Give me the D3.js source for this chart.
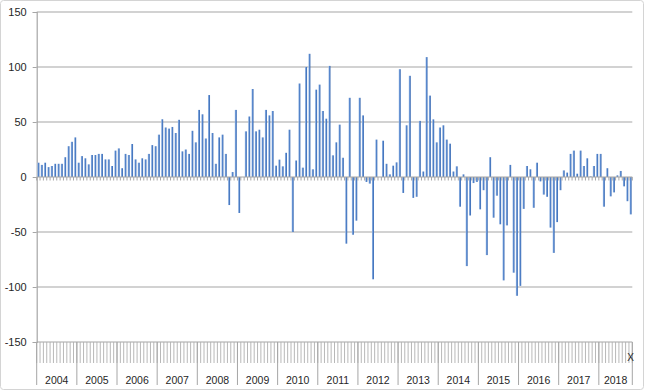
<!DOCTYPE html>
<html>
<head>
<meta charset="utf-8">
<script src="https://cdn.jsdelivr.net/npm/d3@7"></script>
<style>
  body { margin: 0; background: #fff; }
  text { font-family: "Liberation Sans", Arial, sans-serif; fill: #262626; }
</style>
</head>
<body>
<div id="chart"></div>
<script>
// monthly values, Jan 2004 .. Oct 2018
var values = [
  13, 11, 13, 9, 10, 12, 12, 12, 18, 28, 32, 36,                 // 2004
  13, 19, 17, 11.5, 20, 20, 21, 21, 16, 16, 10, 24,              // 2005
  26, 8, 21, 20, 30, 16, 13, 17, 16, 21, 29, 28,                 // 2006
  38.5, 52.5, 45, 44, 45.5, 40, 52, 23.3, 25, 21, 42, 31.5,      // 2007
  61, 57, 35, 74.5, 40, 12, 36, 38.5, 21, -25.5, 4.5, 61,        // 2008
  -32.7, 0, 41.5, 55, 80, 41.5, 43, 36, 61, 56, 60, 10.3,        // 2009
  15.8, 9.7, 22, 43, -50, 15, 85, 8.5, 100, 112, 7, 79.4,        // 2010
  84, 60, 53, 101, 19.7, 31.5, 47.6, 17.5, -60.6, 72, -52.5, -39.7, // 2011
  72, 56, -4.5, -6, -93, 34, 0, 33, 12, 2.4, 10.3, 13.3,         // 2012
  98, -14.5, 47, 92, -19, -18, 51, 5, 109, 74, 52.4, 31.5,       // 2013
  45, 47, 34, 30.3, 5, 9.7, -27, 2.4, -81, -35, -5.5, -4.5,      // 2014
  -29.4, -12, -71, 18, -37, -17, -43, -94, -44, 11, -87, -108,   // 2015
  -99, -29, 10, 7, -28, 13, -4, -16, -18, -46, -69, -41,         // 2016
  -12, 6, 4, 21, 24, 3, 24, 10, 17, 0.5, 10, 21,                 // 2017
  21, -27, 8, -17.6, -14, 1.5, 5.5, -8.5, -22, -34               // 2018
];
var years = ["2004","2005","2006","2007","2008","2009","2010","2011","2012","2013","2014","2015","2016","2017","2018"];
var monthsPerYear = [12,12,12,12,12,12,12,12,12,12,12,12,12,12,10];
var yTicks = [-150, -100, -50, 0, 50, 100, 150];
var lastMonthLabel = "X";

var width = 645, height = 392;
var plot = {left: 36.7, right: 632.3, top: 12, bottom: 342};

var svg = d3.select("#chart").append("svg")
  .attr("width", width)
  .attr("height", height);

// chart area frame
svg.append("rect")
  .attr("x", 0.5).attr("y", 0.5)
  .attr("width", width - 2).attr("height", height - 3)
  .attr("rx", 3)
  .attr("fill", "#fff")
  .attr("stroke", "#d4d4d4");

// gradient like the excel bars
var grad = svg.append("defs").append("linearGradient")
  .attr("id", "barfill")
  .attr("x1", "0").attr("x2", "1").attr("y1", "0").attr("y2", "0");
grad.append("stop").attr("offset", "0%").attr("stop-color", "#a9c4e8");
grad.append("stop").attr("offset", "45%").attr("stop-color", "#5a8ad0");
grad.append("stop").attr("offset", "100%").attr("stop-color", "#3666ae");

// categories: one per month
var cats = d3.range(values.length);
var x = d3.scaleBand()
  .domain(cats)
  .range([plot.left, plot.right])
  .padding(0);

var y = d3.scaleLinear()
  .domain([-150, 150])
  .range([plot.bottom, plot.top]);

// gridlines
svg.append("g")
  .selectAll("line")
  .data(yTicks.filter(function(d) { return d !== 0; }))
  .enter().append("line")
    .attr("x1", plot.left).attr("x2", plot.right)
    .attr("y1", function(d) { return y(d); })
    .attr("y2", function(d) { return y(d); })
    .attr("stroke", "#a6a6a6")
    .attr("stroke-width", 1.2);

// y axis
var yAxis = svg.append("g")
  .attr("transform", "translate(" + plot.left + ",0)")
  .call(d3.axisLeft(y).tickValues(yTicks).tickSize(4).tickPadding(6)
    .tickFormat(function(d) { return String(d); }));
yAxis.select(".domain").attr("stroke", "#a6a6a6").attr("stroke-width", 1.2);
yAxis.selectAll(".tick line").attr("stroke", "#a6a6a6");
yAxis.selectAll("text")
  .style("font-size", "11px")
  .style("font-family", "'Liberation Sans', Arial, sans-serif")
  .attr("fill", "#262626");

// bars
var bw = x.bandwidth() * 0.6;
svg.append("g")
  .selectAll("rect")
  .data(values)
  .enter().append("rect")
    .attr("x", function(d, i) { return x(i) + (x.bandwidth() - bw) / 2; })
    .attr("y", function(d) { return y(Math.max(0, d)); })
    .attr("width", bw)
    .attr("height", function(d) { return Math.abs(y(d) - y(0)); })
    .attr("fill", "url(#barfill)");

// horizontal axis at zero, with tick marks between months
svg.append("line")
  .attr("x1", plot.left).attr("x2", plot.right)
  .attr("y1", y(0)).attr("y2", y(0))
  .attr("stroke", "#a6a6a6")
  .attr("stroke-width", 1.2);
var bounds = cats.map(function(i) { return x(i); }).concat([plot.right]);
svg.append("g")
  .selectAll("line")
  .data(bounds)
  .enter().append("line")
    .attr("x1", function(d) { return d; }).attr("x2", function(d) { return d; })
    .attr("y1", y(0)).attr("y2", y(0) + 3.5)
    .attr("stroke", "#a6a6a6");

// bottom category label area: month dividers
svg.append("g")
  .selectAll("line")
  .data(bounds)
  .enter().append("line")
    .attr("x1", function(d) { return d; }).attr("x2", function(d) { return d; })
    .attr("y1", plot.bottom).attr("y2", plot.bottom + 21)
    .attr("stroke", "#b0b0b0")
    .attr("stroke-width", 0.9);

// year dividers and labels
var starts = [];
var acc = 0;
monthsPerYear.forEach(function(n) { starts.push(acc); acc += n; });
var yearBounds = starts.map(function(s) { return x(s); }).concat([plot.right]);

svg.append("g")
  .selectAll("line")
  .data(yearBounds)
  .enter().append("line")
    .attr("x1", function(d) { return d; }).attr("x2", function(d) { return d; })
    .attr("y1", plot.bottom).attr("y2", plot.bottom + 43)
    .attr("stroke", "#a6a6a6");

svg.append("g")
  .selectAll("text")
  .data(years)
  .enter().append("text")
    .attr("x", function(d, i) { return (yearBounds[i] + yearBounds[i + 1]) / 2; })
    .attr("y", 384)
    .attr("text-anchor", "middle")
    .style("font-size", "10.5px")
    .text(function(d) { return d; });

// label of the last month
svg.append("text")
  .attr("x", x(values.length - 1) + x.bandwidth() / 2)
  .attr("y", 361)
  .attr("text-anchor", "middle")
  .style("font-size", "10px")
  .text(lastMonthLabel);
</script>
</body>
</html>
